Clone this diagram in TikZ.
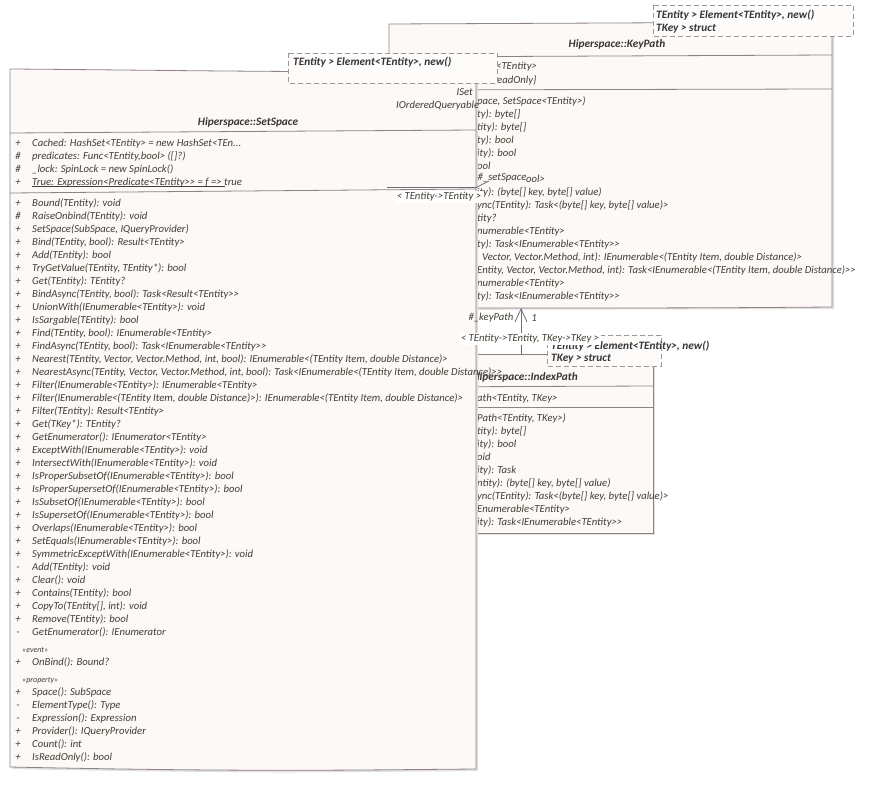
\documentclass[tikz,border=0pt]{standalone}
\usepackage{fontspec}
\setmainfont{Carlito}[Ligatures=TeXOff]
\usetikzlibrary{arrows.meta}
\definecolor{boxfill}{HTML}{FDF9F6}
\definecolor{boxline}{HTML}{8E8282}
\definecolor{txt}{HTML}{404036}
\definecolor{ttl}{HTML}{363636}
\definecolor{dashcol}{HTML}{A09696}
\definecolor{connc}{HTML}{6E6E7A}
\newcommand\umlfont{\fontsize{10.7}{12}\selectfont\itshape}
\newcommand\umlbold{\fontsize{11.3}{13}\selectfont\bfseries\itshape}
\newcommand\stereofont{\fontsize{8}{9}\selectfont\itshape}

\begin{document}
\begin{tikzpicture}[x=1pt,y=-1pt,
  classbox/.style={fill=boxfill,draw=boxline,line width=0.8pt},
  shadowbox/.style={fill=black!12,draw=none},
  sepline/.style={draw=boxline,line width=0.8pt},
  tplbox/.style={fill=boxfill!50!white,draw=dashcol,dash pattern=on 5pt off 3pt,line width=0.9pt},
  row/.style={anchor=base west,inner sep=0pt,font=\umlfont,text=txt},
  vis/.style={anchor=base,inner sep=0pt,font=\umlfont,text=txt},
  stereo/.style={anchor=base west,inner sep=0pt,font=\stereofont,text=txt},
  title/.style={anchor=base,inner sep=0pt,font=\umlbold,text=ttl},
  tpltext/.style={anchor=base west,inner sep=0pt,font=\umlbold,text=ttl},
  conn/.style={draw=connc,line width=0.8pt},
  edgelabel/.style={inner sep=1pt,font=\umlfont,text=txt},
  bindlabel/.style={fill=white,inner sep=1.5pt,font=\umlfont,text=txt},
]
\useasboundingbox (0,0) rectangle (877,797);

% ---------------- KeyPath class ----------------
\path[shadowbox] (391,26) -- (834,24) -- (834,309) -- (391,310) -- cycle;
\path[classbox] (389,24) -- (832,22) -- (832,307) .. controls (700,308) .. (389,308) -- cycle;
\node[title] (kp-title) at (617,48) {Hiperspace::KeyPath};
\draw[sepline] (389,57) -- (832,55);
\node[row] (kp-attr0) at (496,69.5) {<TEntity>};
\node[row] (kp-attr1) at (497,83.5) {eadOnly\}};
\draw[sepline] (389,90) -- (832,89);
\foreach \t [count=\i from 0] in {
  {pace, SetSpace<TEntity>)},
  {ty): byte[]},
  {tity): byte[]},
  {ty): bool},
  {ity): bool},
  {ool},
  {},
  {ity): (byte[] key, byte[] value)},
  {ync(TEntity): Task<(byte[] key, byte[] value)>},
  {tity?},
  {numerable<TEntity>},
  {ty): Task<IEnumerable<TEntity>>},
  {},
  {Entity, Vector, Vector.Method, int): Task<IEnumerable<(TEntity Item, double Distance)>>},
  {numerable<TEntity>},
  {ty): Task<IEnumerable<TEntity>>}} {
  \node[row] (kp-op\i) at (477,{104.5+13*\i}) {\t};
}
\node[row] (kp-op6b) at (526,182.5) {ool>};
\node[row] (kp-op12b) at (482,260.5) {Vector, Vector.Method, int): IEnumerable<(TEntity Item, double Distance)>};

% KeyPath template parameters
\path[tplbox] (653,5) rectangle (853,36);
\node[tpltext] (kp-tpl0) at (656,18.5) {TEntity > Element<TEntity>, new()};
\node[tpltext] (kp-tpl1) at (656,31.5) {TKey > struct};

% ---------------- IndexPath class ----------------
\path[shadowbox] (402,356) -- (655,356) -- (655,535) -- (402,535) -- cycle;
\path[classbox] (400,354) -- (653,354) -- (653,533) -- (400,533) -- cycle;
\node[title,anchor=base east] (ip-title) at (578,380) {Hiperspace::IndexPath};
\draw[sepline] (400,387) -- (653,386);
\node[row] (ip-attr0) at (477,401.5) {ath<TEntity, TKey>};
\draw[sepline] (400,407) -- (653,407);
\foreach \t [count=\i from 0] in {
  {Path<TEntity, TKey>)},
  {tity): byte[]},
  {ity): bool},
  {oid},
  {ity): Task},
  {ntity): (byte[] key, byte[] value)},
  {ync(TEntity): Task<(byte[] key, byte[] value)>},
  {Enumerable<TEntity>},
  {ity): Task<IEnumerable<TEntity>>}} {
  \node[row] (ip-op\i) at (477,{421.5+13*\i}) {\t};
}

% IndexPath template parameters
\path[tplbox] (547,335) rectangle (661,366);
\node[tpltext] (ip-tpl0) at (551,349.5) {TEntity > Element<TEntity>, new()};
\node[tpltext] (ip-tpl1) at (551,361.5) {TKey > struct};

% ---------------- SetSpace class ----------------
\path[shadowbox] (12,71) -- (478,74) -- (478,771) .. controls (350,772) and (250,774) .. (12,769) -- cycle;
\path[classbox] (10,69) .. controls (150,70) and (250,72) .. (476,72) -- (476,769)
  .. controls (350,770) and (250,772) .. (10,767) -- cycle;
\node[row,anchor=base east] (ss-iset) at (473,95.5) {ISet};
\node[row] (ss-iquery) at (396,108.5) {IOrderedQueryable};
\node[title] (ss-title) at (248,125) {Hiperspace::SetSpace};
\draw[sepline] (10,133) -- (476,130);
\foreach \v/\t [count=\i from 0] in {
  {+}/{Cached: HashSet<TEntity> = new HashSet<TEn...},
  {\#}/{predicates: Func<TEntity,bool> ([]?)},
  {\#}/{\_lock: SpinLock = new SpinLock()},
  {+}/{True: Expression<Predicate<TEntity>> = f => true}} {
  \node[vis] (ss-attrv\i) at (18,{146.5+13*\i}) {\v};
  \node[row] (ss-attr\i) at (32,{146.5+13*\i}) {\t};
}
\draw[txt,line width=0.5pt] (32,186.5) -- (225,186.5);
\draw[sepline] (10,193) -- (476,189);
\foreach \v/\t [count=\i from 0] in {
  {+}/{Bound(TEntity): void},
  {\#}/{RaiseOnbind(TEntity): void},
  {+}/{SetSpace(SubSpace, IQueryProvider)},
  {+}/{Bind(TEntity, bool): Result<TEntity>},
  {+}/{Add(TEntity): bool},
  {+}/{TryGetValue(TEntity, TEntity*): bool},
  {+}/{Get(TEntity): TEntity?},
  {+}/{BindAsync(TEntity, bool): Task<Result<TEntity>>},
  {+}/{UnionWith(IEnumerable<TEntity>): void},
  {+}/{IsSargable(TEntity): bool},
  {+}/{Find(TEntity, bool): IEnumerable<TEntity>},
  {+}/{FindAsync(TEntity, bool): Task<IEnumerable<TEntity>>},
  {+}/{Nearest(TEntity, Vector, Vector.Method, int, bool): IEnumerable<(TEntity Item, double Distance)>},
  {+}/{NearestAsync(TEntity, Vector, Vector.Method, int, bool): Task<IEnumerable<(TEntity Item, double Distance)>>},
  {+}/{Filter(IEnumerable<TEntity>): IEnumerable<TEntity>},
  {+}/{Filter(IEnumerable<(TEntity Item, double Distance)>): IEnumerable<(TEntity Item, double Distance)>},
  {+}/{Filter(TEntity): Result<TEntity>},
  {+}/{Get(TKey*): TEntity?},
  {+}/{GetEnumerator(): IEnumerator<TEntity>},
  {+}/{ExceptWith(IEnumerable<TEntity>): void},
  {+}/{IntersectWith(IEnumerable<TEntity>): void},
  {+}/{IsProperSubsetOf(IEnumerable<TEntity>): bool},
  {+}/{IsProperSupersetOf(IEnumerable<TEntity>): bool},
  {+}/{IsSubsetOf(IEnumerable<TEntity>): bool},
  {+}/{IsSupersetOf(IEnumerable<TEntity>): bool},
  {+}/{Overlaps(IEnumerable<TEntity>): bool},
  {+}/{SetEquals(IEnumerable<TEntity>): bool},
  {+}/{SymmetricExceptWith(IEnumerable<TEntity>): void},
  {-}/{Add(TEntity): void},
  {+}/{Clear(): void},
  {+}/{Contains(TEntity): bool},
  {+}/{CopyTo(TEntity[], int): void},
  {+}/{Remove(TEntity): bool},
  {-}/{GetEnumerator(): IEnumerator}} {
  \node[vis] (ss-opv\i) at (18,{206.5+13*\i}) {\v};
  \node[row] (ss-op\i) at (32,{206.5+13*\i}) {\t};
}
\node[stereo] (ss-event) at (22,652) {«event»};
\node[vis] (ss-evv0) at (18,665.5) {+};
\node[row] (ss-ev0) at (32,665.5) {OnBind(): Bound?};
\node[stereo] (ss-prop) at (22,682) {«property»};
\foreach \v/\t [count=\i from 0] in {
  {+}/{Space(): SubSpace},
  {-}/{ElementType(): Type},
  {-}/{Expression(): Expression},
  {+}/{Provider(): IQueryProvider},
  {+}/{Count(): int},
  {+}/{IsReadOnly(): bool}} {
  \node[vis] (ss-prv\i) at (18,{695.5+13*\i}) {\v};
  \node[row] (ss-pr\i) at (32,{695.5+13*\i}) {\t};
}

% SetSpace template parameter
\path[tplbox] (288,53) rectangle (497,83);
\node[tpltext] (ss-tpl0) at (293,65.5) {TEntity > Element<TEntity>, new()};

% ---------------- connectors ----------------
% KeyPath -> SetSpace association
\coordinate (kp-west) at (387,187);
\coordinate (ss-east) at (477,187);
\draw[conn] (kp-west) -- (ss-east);
\draw[conn] (ss-east) -- ++(12,-6);
\node[bindlabel] (bind-ss) at (439,197) {< TEntity->TEntity >};
\node[edgelabel,inner sep=0pt] (role-ss) at (502,178) {\#\_setSpace};

% IndexPath -> KeyPath association
\coordinate (ip-top) at (521,355);
\coordinate (kp-bottom) at (521,308);
\draw[conn,-{Straight Barb[length=13pt,width=12pt,line width=0.8pt]}] (ip-top) -- (kp-bottom);
\node[edgelabel,inner sep=0pt] (role-kp) at (491,318) {\#\_keyPath};
\node[edgelabel,inner sep=0pt] (mult-kp) at (534,318) {1};
\node[bindlabel] (bind-kp) at (530,339) {< TEntity->TEntity, TKey->TKey >};
\end{tikzpicture}
\end{document}
